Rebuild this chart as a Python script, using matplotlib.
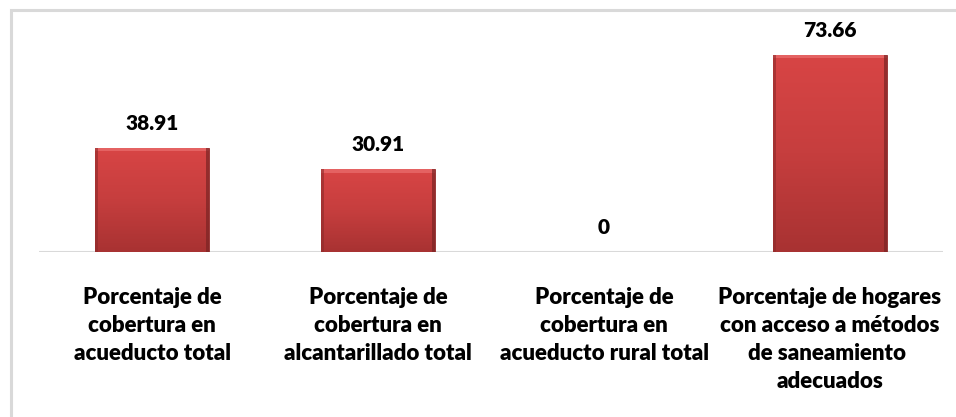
import numpy as np
import matplotlib.pyplot as plt
from matplotlib.patches import Rectangle
from matplotlib.colors import LinearSegmentedColormap

# Cobertura de servicios públicos (%)
categorias = [
    "Porcentaje de\ncobertura en\nacueducto total",
    "Porcentaje de\ncobertura en\nalcantarillado total",
    "Porcentaje de\ncobertura en\nacueducto rural total",
    "Porcentaje de hogares\ncon acceso a métodos\nde saneamiento \nadecuados",
]
valores = [38.91, 30.91, 0, 73.66]
etiquetas = ["38.91", "30.91", "0", "73.66"]

plt.rcParams['font.family'] = ['Lato', 'DejaVu Sans']

fig = plt.figure(figsize=(9.56, 4.17), dpi=100)
fig.patch.set_facecolor('white')

# marco gris del área del gráfico
fig.patches.append(Rectangle((11 / 956, -0.1), 1.2, (417 - 10) / 417 + 0.1,
                             transform=fig.transFigure, fill=False,
                             edgecolor='#D9D9D9', linewidth=2.2))

ax = fig.add_axes([39 / 956, 165 / 417, 904 / 956, 214 / 417])
ax.set_xlim(-0.5, 3.5)
ax.set_ylim(0, 80)

x = np.arange(len(valores))
ancho = 0.504
barras = ax.bar(x, valores, width=ancho, color='#C83C3C', edgecolor='#8E2A2A',
                linewidth=0.6, zorder=2)

# degradado vertical con borde biselado
cmap = LinearSegmentedColormap.from_list('rojo', ['#A83232', '#C63E3E', '#D84545'])
grad = np.linspace(0, 1, 256).reshape(-1, 1)
for b in barras:
    h = b.get_height()
    if h <= 0:
        continue
    x0 = b.get_x()
    w = b.get_width()
    img = ax.imshow(grad, extent=[x0, x0 + w, 0, h], origin='lower', cmap=cmap,
                    aspect='auto', zorder=3)
    img.set_clip_path(b)
    # bisel superior claro y laterales oscuros
    ax.add_patch(Rectangle((x0, h - 1.3), w, 1.3, facecolor='#E86A6A',
                           edgecolor='none', alpha=0.8, zorder=4))
    ax.add_patch(Rectangle((x0, 0), w * 0.025, h, facecolor='#8E2A2A',
                           edgecolor='none', alpha=0.6, zorder=4))
    ax.add_patch(Rectangle((x0 + w * 0.975, 0), w * 0.025, h, facecolor='#7A2424',
                           edgecolor='none', alpha=0.7, zorder=4))

for xi, v, t in zip(x, valores, etiquetas):
    ax.annotate(t, (xi, v), xytext=(0, 11), textcoords='offset points',
                ha='center', va='bottom', fontsize=15, fontweight='heavy',
                color='black', annotation_clip=False)

for xi, c in zip(x, categorias):
    ax.text(xi, -13, c, ha='center', va='top', fontsize=16, fontweight='heavy',
            color='black', linespacing=1.42, clip_on=False)

ax.axhline(0, color='#D9D9D9', linewidth=2.2, zorder=1)
for s in ax.spines.values():
    s.set_visible(False)
ax.set_xticks([])
ax.set_yticks([])
ax.patch.set_alpha(0)

fig.savefig('out.png', dpi=100, facecolor='white')
